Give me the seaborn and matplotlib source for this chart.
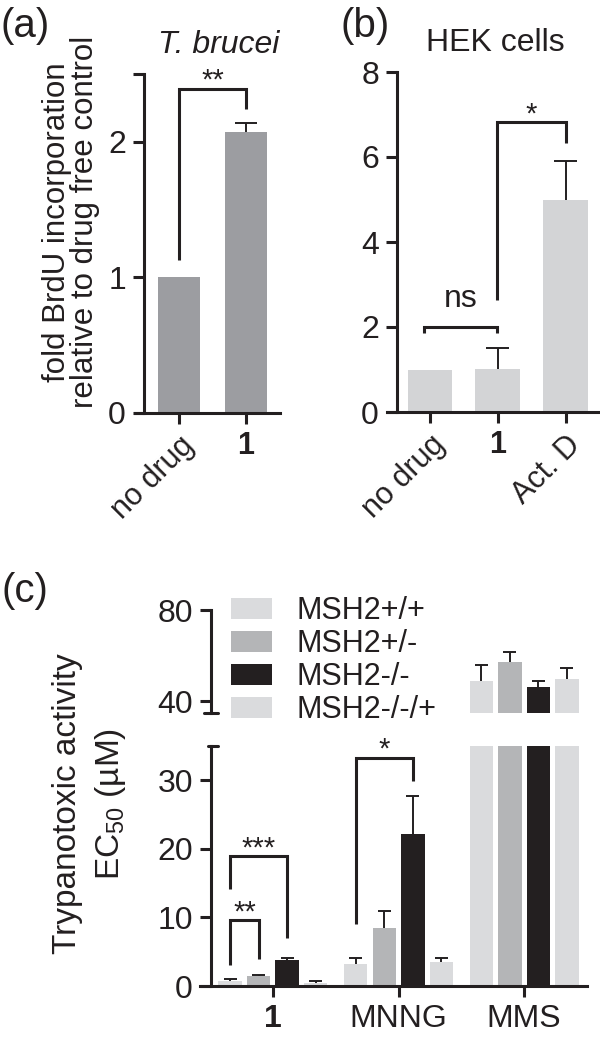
import numpy as np
import pandas as pd
import seaborn as sns
import matplotlib.pyplot as plt

# panel (a): T. brucei, fold BrdU incorporation
a_labels = ['no drug', '1']
a_values = [1.0, 2.07]
a_err = [0.0, 0.07]

# panel (b): HEK cells
b_labels = ['no drug', '1', 'Act. D']
b_values = [1.0, 1.02, 5.0]
b_err = [0.0, 0.48, 0.91]

# panel (c): EC50 per cell line
c_drugs = ['1', 'MNNG', 'MMS']
c_strains = ['MSH2+/+', 'MSH2+/-', 'MSH2-/-', 'MSH2-/-/+']
wt_vals = [0.8, 3.2, 48.8]
wt_err = [0.15, 0.9, 7.3]
het_vals = [1.4, 8.5, 57.3]
het_err = [0.15, 2.5, 4.1]
ko_vals = [3.8, 22.2, 46.3]
ko_err = [0.35, 5.5, 2.5]
res_vals = [0.5, 3.45, 50.0]
res_err = [0.25, 0.6, 4.4]

ink = '#231f20'
a_color = '#9c9da1'
b_color = '#d3d4d6'
c_palette = ['#dadbdd', '#b4b5b7', '#231f20', '#dadbdd']

sns.set_theme(style='ticks')
plt.rcParams['font.family'] = ['Liberation Sans', 'DejaVu Sans']
plt.rcParams.update({
    'text.color': ink, 'axes.edgecolor': ink, 'axes.labelcolor': ink,
    'xtick.color': ink, 'ytick.color': ink,
    'axes.linewidth': 2.2, 'xtick.major.width': 2.2, 'ytick.major.width': 2.2,
    'xtick.major.size': 8, 'ytick.major.size': 8,
    'xtick.major.pad': 5, 'ytick.major.pad': 5,
    'mathtext.default': 'regular',
})

W, H = 600, 1041
fig = plt.figure(figsize=(W / 100, H / 100), dpi=100)


def px_box(l, t, r, b):
    return [l / W, 1 - b / H, (r - l) / W, (b - t) / H]


def prism(ax, spine_off, width):
    sns.despine(ax=ax)
    ax.spines['left'].set_position(('axes', spine_off / width))
    ax.set(xlabel='', ylabel='')


def bracket(ax, x1, x2, y1, y2, top, label, fs=21, ty=None):
    ax.plot([x1, x1, x2, x2], [y1, top, top, y2], color=ink, lw=2.2,
            clip_on=False, solid_capstyle='butt', solid_joinstyle='miter')
    ax.text((x1 + x2) / 2, top if ty is None else ty, label, ha='center',
            va='baseline', fontsize=fs, color=ink)


def simple_errors(ax, vals, errs, half_cap):
    for i, (v, e) in enumerate(zip(vals, errs)):
        if e > 0:
            ax.vlines(i, v, v + e, color=ink, lw=1.4)
            ax.hlines(v + e, i - half_cap, i + half_cap, color=ink, lw=1.4)


def style_xlabels(ax, size, rotate=True):
    for lab in ax.get_xticklabels():
        lab.set_fontsize(size)
        if lab.get_text() == '1':
            lab.set_fontweight('bold')
        elif rotate:
            lab.set_rotation(45)
            lab.set_ha('right')
            lab.set_rotation_mode('anchor')


# ---- (a)
ax_a = fig.add_axes(px_box(135, 74, 280, 412.5))
sns.barplot(x=a_labels, y=a_values, color=a_color, width=0.63, errorbar=None,
            linewidth=0, saturation=1, ax=ax_a)
simple_errors(ax_a, a_values, a_err, 0.17)
ax_a.set_xlim(-0.66, 1.51)
ax_a.set_ylim(0, 2.5)
ax_a.set_yticks([0, 1, 2, 2.5], ['0', '1', '2', ''])
ax_a.tick_params(axis='y', labelsize=23)
prism(ax_a, 9, 145)
style_xlabels(ax_a, 22)
bracket(ax_a, 0, 1, 1.126, 2.24, 2.39, '**')

# ---- (b)
ax_b = fig.add_axes(px_box(387, 72, 600, 412))
sns.barplot(x=b_labels, y=b_values, color=b_color, width=0.66, errorbar=None,
            linewidth=0, saturation=1, ax=ax_b)
simple_errors(ax_b, b_values, b_err, 0.17)
ax_b.set_xlim(-0.634, 2.506)
ax_b.set_ylim(0, 8)
ax_b.set_yticks([0, 2, 4, 6, 8])
ax_b.tick_params(axis='y', labelsize=23)
prism(ax_b, 10, 213)
style_xlabels(ax_b, 22)
bracket(ax_b, -0.09, 0.99, 1.85, 1.85, 1.99, 'ns', fs=23, ty=2.48)
bracket(ax_b, 0.99, 2.0, 2.64, 6.32, 6.82, '*')

# ---- (c) broken axis
c_df = pd.DataFrame({
    'drug': np.tile(c_drugs, 4),
    'strain': np.repeat(c_strains, 3),
    'value': wt_vals + het_vals + ko_vals + res_vals,
})
c_errs = [wt_err, het_err, ko_err, res_err]
pitch = 0.908 / 4

ax_ct = fig.add_axes(px_box(200, 610, 587, 713))
ax_cb = fig.add_axes(px_box(200, 746, 587, 986))
for ax in (ax_ct, ax_cb):
    sns.barplot(data=c_df, x='drug', y='value', hue='strain', order=c_drugs,
                hue_order=c_strains, palette=c_palette, width=0.908, gap=0.176,
                errorbar=None, linewidth=0, saturation=1, ax=ax,
                legend=(ax is ax_ct))
    for patch in ax.patches:
        if patch.get_width() <= 0 or patch.get_height() <= 0:
            continue
        xc = patch.get_x() + patch.get_width() / 2
        g = int(round(xc))
        k = int(round((xc - g) / pitch + 1.5))
        if not (0 <= k < 4):
            continue
        v = patch.get_height()
        e = c_errs[k][g]
        ax.vlines(xc, v, v + e, color=ink, lw=1.4)
        ax.hlines(v + e, xc - 0.052, xc + 0.052, color=ink, lw=1.4)
    ax.set_xlim(-0.58, 2.50)
    ax.tick_params(axis='y', labelsize=23)
    prism(ax, 11, 387)

ax_ct.set_ylim(34.9, 80)
ax_ct.set_yticks([40, 80])
ax_ct.spines['bottom'].set_visible(False)
ax_ct.set_xticks([])
ax_cb.set_ylim(0, 35)
ax_cb.set_yticks([0, 10, 20, 30])
style_xlabels(ax_cb, 23, rotate=False)

# break marks at the spine ends
f = 11 / 387
d = 7 / 387
ax_ct.plot([f - d, f + d], [0, 0], transform=ax_ct.transAxes, color=ink,
           lw=2.2, clip_on=False)
ax_cb.plot([f - d * 0.5, f + d], [1, 1], transform=ax_cb.transAxes, color=ink,
           lw=2.2, clip_on=False)

old = ax_ct.get_legend()
handles = old.legend_handles
labels = [t.get_text() for t in old.get_texts()]
old.remove()
ax_ct.legend(handles, labels, loc='upper left',
             bbox_to_anchor=(231 / W, 1 - 596 / H), bbox_transform=fig.transFigure,
             frameon=False, fontsize=22, handlelength=1.35, handleheight=0.7,
             handletextpad=0.8, labelspacing=0.1, borderpad=0, borderaxespad=0)

c1 = -1.5 * pitch
c2 = -0.5 * pitch
c3 = 0.5 * pitch
bracket(ax_cb, c1, c2, 3.0, 3.9, 9.6, '**')
bracket(ax_cb, c1, c3, 14.2, 7.0, 18.9, '***')
bracket(ax_cb, 1 + c1, 1 + c3, 9.0, 29.9, 33.3, '*')

# ---- labels and titles
fig.text(71 / W, 1 - 222 / H, 'fold BrdU incorporation\nrelative to drug free control',
         rotation=90, ha='center', va='center', fontsize=22.5, linespacing=0.95)
fig.text(90 / W, 1 - 804 / H, 'Trypanotoxic activity\nEC$_{50}$ (µM)',
         rotation=90, ha='center', va='center', fontsize=24, linespacing=1.35)
fig.text(219 / W, 1 - 45 / H, 'T. brucei', style='italic', ha='center',
         va='center', fontsize=23)
fig.text(495 / W, 1 - 43 / H, 'HEK cells', ha='center', va='center', fontsize=23)
fig.text(25 / W, 1 - 26 / H, '(a)', ha='center', va='center', fontsize=29)
fig.text(365 / W, 1 - 26 / H, '(b)', ha='center', va='center', fontsize=29)
fig.text(25 / W, 1 - 591 / H, '(c)', ha='center', va='center', fontsize=29)

fig.savefig('out.png', dpi=100)
